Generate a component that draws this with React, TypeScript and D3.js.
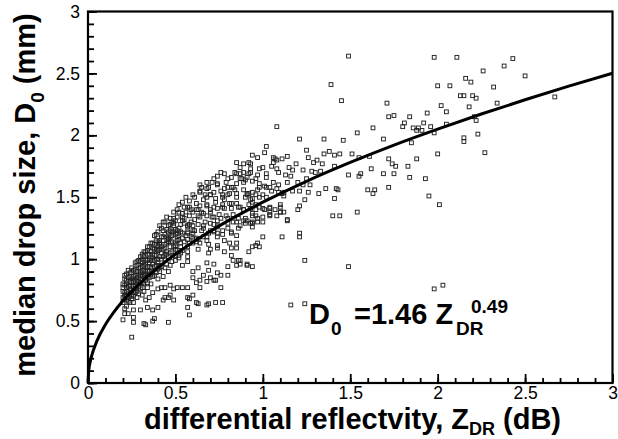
import React, { useRef, useEffect } from 'react';
import * as d3 from 'd3';

type Pt = [number, number];

const upperTail: Pt[] = [
  [1.98, 2.63], [2.11, 2.63], [2.43, 2.62], [2.38, 2.56], [2.26, 2.52], [2.50, 2.48], [2.16, 2.46],
  [2.19, 2.43], [2.00, 2.40], [2.07, 2.40], [2.32, 2.39], [2.13, 2.32], [2.15, 2.32], [2.20, 2.32],
  [2.22, 2.30], [2.67, 2.31], [2.34, 2.26], [2.02, 2.24], [2.18, 2.23], [2.05, 2.19], [1.94, 2.18],
  [2.21, 2.15], [2.22, 2.12], [1.92, 2.10], [1.96, 2.07], [2.05, 2.09], [1.91, 2.04], [1.98, 2.02],
  [2.23, 2.01], [2.15, 1.98], [2.15, 1.95], [2.00, 1.85], [2.27, 1.86], [1.93, 1.65], [1.95, 1.51],
  [2.01, 1.44], [1.98, 0.76], [2.03, 0.79], [1.49, 2.64], [1.39, 2.41], [1.45, 2.28], [1.71, 2.26],
  [1.75, 2.16], [1.72, 2.15], [1.84, 2.15], [1.81, 2.10], [1.80, 2.07], [1.63, 2.06], [1.86, 2.06],
  [1.88, 2.04], [1.89, 2.06],
];

const midCloud: Pt[] = [
  [1.08, 2.07], [1.54, 2.02], [1.21, 1.97], [1.35, 1.97], [1.46, 1.96], [1.69, 1.97], [1.85, 1.94],
  [1.02, 1.91], [1.01, 1.86], [1.25, 1.88], [1.38, 1.87], [1.35, 1.85], [1.41, 1.84], [1.44, 1.85],
  [1.51, 1.85], [1.55, 1.82], [1.61, 1.83], [0.94, 1.84], [0.97, 1.82], [1.06, 1.82], [1.08, 1.80],
  [1.11, 1.81], [1.14, 1.83], [1.19, 1.77], [1.26, 1.82], [1.29, 1.78], [1.31, 1.80], [1.34, 1.77],
  [1.72, 1.81], [1.74, 1.77], [1.76, 1.75], [1.88, 1.81], [1.83, 1.75], [1.41, 1.75], [1.62, 1.73],
  [0.89, 1.77], [0.93, 1.77], [1.00, 1.74], [1.05, 1.75], [1.08, 1.73], [1.15, 1.74], [1.17, 1.72],
  [1.23, 1.72], [1.28, 1.71], [1.30, 1.70], [1.33, 1.71], [1.25, 1.65], [1.49, 1.68], [1.55, 1.67],
  [1.56, 1.69], [1.69, 1.69], [1.75, 1.69], [1.84, 1.66], [0.87, 1.69], [0.92, 1.69], [0.97, 1.68],
  [1.02, 1.69], [1.09, 1.70], [1.13, 1.68], [1.16, 1.67], [0.88, 1.65], [0.91, 1.66], [0.94, 1.63],
  [0.98, 1.61], [1.01, 1.59], [1.06, 1.62], [1.09, 1.60], [1.14, 1.62], [1.20, 1.62], [1.23, 1.60],
  [1.27, 1.60], [1.36, 1.57], [1.42, 1.57], [1.43, 1.56], [1.60, 1.56], [1.64, 1.56], [1.63, 1.53],
  [1.72, 1.58], [0.89, 1.56], [0.91, 1.52], [0.93, 1.48], [0.96, 1.52], [0.98, 1.50], [1.00, 1.52],
  [1.02, 1.50], [1.05, 1.55], [1.08, 1.57], [1.11, 1.53], [1.12, 1.51], [1.17, 1.55], [1.21, 1.55],
  [1.24, 1.48], [1.26, 1.54], [1.32, 1.53], [1.41, 1.49], [0.96, 1.44], [1.00, 1.41], [1.04, 1.41],
  [1.10, 1.44], [1.21, 1.43], [0.89, 1.40], [0.94, 1.37], [0.96, 1.35], [1.04, 1.38], [1.04, 1.36],
  [1.10, 1.38], [1.12, 1.38], [1.20, 1.40], [1.40, 1.35], [1.44, 1.35], [1.54, 1.38], [0.89, 1.31],
  [0.94, 1.30], [1.00, 1.30], [1.14, 1.31], [0.94, 1.26], [1.00, 1.18], [1.11, 1.18], [1.21, 1.21],
  [1.21, 1.18], [0.97, 1.13], [0.96, 1.11], [0.92, 1.06], [0.87, 0.99], [0.87, 0.96], [0.91, 0.96],
  [0.94, 0.94], [1.24, 0.99], [1.49, 0.94], [1.16, 0.63], [1.24, 0.64],
];

const upperCloud: Pt[] = [
  [0.85, 1.78], [0.92, 1.78], [0.87, 1.74], [0.89, 1.70], [0.93, 1.73], [0.93, 1.70], [0.98, 1.73],
  [0.85, 1.69], [0.82, 1.66], [0.74, 1.67], [0.78, 1.69], [0.87, 1.65], [0.90, 1.64], [0.96, 1.65],
  [1.02, 1.66], [1.06, 1.78], [1.07, 1.81], [0.74, 1.61], [0.80, 1.58], [0.82, 1.58], [0.84, 1.56],
  [0.64, 1.55], [0.68, 1.57], [0.70, 1.52], [0.73, 1.49], [0.77, 1.50], [0.80, 1.52], [0.85, 1.53],
  [0.90, 1.50], [0.92, 1.53], [0.94, 1.54], [0.98, 1.58], [1.02, 1.58], [1.04, 1.58], [1.09, 1.54],
  [1.12, 1.54], [0.58, 1.42], [0.62, 1.40], [0.64, 1.43], [0.68, 1.43], [0.70, 1.40], [0.74, 1.41],
  [0.77, 1.42], [0.78, 1.41], [0.82, 1.41], [0.86, 1.42], [0.89, 1.40], [0.93, 1.41], [0.96, 1.40],
  [0.98, 1.42], [1.01, 1.40], [1.04, 1.42], [1.07, 1.40], [1.10, 1.42], [1.10, 1.38], [0.51, 1.34],
  [0.54, 1.34], [0.54, 1.37], [0.58, 1.35], [0.64, 1.34], [0.68, 1.35], [0.72, 1.34], [0.76, 1.33],
  [0.80, 1.33], [0.86, 1.33], [0.90, 1.33], [0.94, 1.35], [0.97, 1.33], [1.00, 1.34], [1.04, 1.35],
  [1.08, 1.35], [1.14, 1.32], [0.69, 1.58], [0.74, 1.60], [0.78, 1.57], [0.83, 1.58], [0.85, 1.61],
  [0.89, 1.62], [0.64, 1.54], [0.67, 1.52], [0.72, 1.54], [0.77, 1.52], [0.81, 1.53], [0.85, 1.50],
  [0.91, 1.53], [0.94, 1.49], [0.97, 1.56], [0.68, 1.44], [0.72, 1.42], [0.77, 1.44], [0.82, 1.45],
  [0.87, 1.42], [0.92, 1.44], [0.94, 1.46], [0.60, 1.38], [0.63, 1.35], [0.66, 1.37], [0.71, 1.34],
  [0.74, 1.31], [0.85, 1.30], [0.91, 1.31], [0.94, 1.29],
];

const coreCloud: Pt[] = [
  [0.49, 1.29], [0.53, 1.28], [0.57, 1.27], [0.60, 1.27], [0.66, 1.27], [0.70, 1.29], [0.74, 1.27],
  [0.80, 1.29], [0.83, 1.30], [0.87, 1.27], [0.90, 1.29], [0.93, 1.29], [0.97, 1.30], [0.47, 1.23],
  [0.51, 1.23], [0.57, 1.22], [0.60, 1.23], [0.65, 1.23], [0.70, 1.23], [0.74, 1.21], [0.80, 1.25],
  [0.82, 1.22], [0.86, 1.25], [0.43, 1.18], [0.47, 1.18], [0.51, 1.18], [0.54, 1.17], [0.59, 1.18],
  [0.62, 1.17], [0.68, 1.18], [0.74, 1.18], [0.78, 1.15], [0.85, 1.19], [0.41, 1.13], [0.45, 1.13],
  [0.50, 1.13], [0.53, 1.13], [0.58, 1.13], [0.64, 1.13], [0.69, 1.12], [0.74, 1.11], [0.81, 1.13],
  [0.85, 1.13], [0.82, 1.09], [0.85, 1.09], [0.70, 1.08], [0.74, 1.09], [0.94, 1.10], [0.98, 1.10],
  [0.49, 1.27], [0.48, 1.22], [0.51, 1.21], [0.54, 1.21], [0.57, 1.21], [0.60, 1.21], [0.46, 1.17],
  [0.43, 1.15], [0.47, 1.10], [0.50, 1.11], [0.44, 1.09], [0.40, 1.07], [0.42, 1.05], [0.39, 1.03],
  [0.37, 1.01], [0.35, 0.97], [0.40, 0.97], [0.34, 0.94], [0.31, 0.91], [0.30, 0.89], [0.28, 0.85],
  [0.26, 0.82], [0.25, 0.81], [0.22, 0.77], [0.21, 0.73], [0.35, 0.90], [0.38, 0.87], [0.41, 0.90],
  [0.44, 0.93], [0.47, 0.95], [0.50, 0.99], [0.52, 1.03], [0.54, 1.07], [0.57, 1.10], [0.60, 1.13],
  [0.63, 1.16], [0.66, 1.18], [0.69, 1.21], [0.72, 1.23], [0.74, 1.26], [0.30, 0.81], [0.33, 0.83],
  [0.27, 0.73], [0.25, 0.71], [0.34, 0.77], [0.31, 0.77], [0.57, 1.26], [0.61, 1.23], [0.66, 1.25],
  [0.72, 1.22], [0.77, 1.23], [0.82, 1.21], [0.41, 1.15], [0.46, 1.14], [0.51, 1.15], [0.57, 1.16],
  [0.62, 1.14], [0.68, 1.15], [0.34, 1.07], [0.40, 1.07], [0.45, 1.06], [0.51, 1.07], [0.57, 1.06],
  [0.21, 0.79], [0.22, 0.83], [0.23, 0.72], [0.24, 0.86], [0.24, 0.76], [0.25, 0.89], [0.26, 0.78],
  [0.27, 0.92], [0.27, 0.84], [0.28, 0.95], [0.28, 0.80], [0.29, 0.88], [0.30, 0.98], [0.30, 0.84],
  [0.31, 1.00], [0.31, 0.94], [0.32, 0.87], [0.32, 1.02], [0.33, 0.96], [0.33, 0.90], [0.34, 1.04],
  [0.34, 0.86], [0.35, 1.00], [0.36, 1.06], [0.36, 0.93], [0.37, 1.09], [0.37, 0.96], [0.38, 1.03],
  [0.38, 1.12], [0.39, 0.95], [0.39, 1.15], [0.40, 1.10], [0.41, 1.02], [0.42, 1.18], [0.42, 0.94],
  [0.43, 1.08], [0.44, 1.20], [0.44, 1.00], [0.45, 1.24], [0.46, 1.02], [0.46, 1.16], [0.47, 1.28],
  [0.48, 1.06], [0.48, 1.19], [0.49, 1.33], [0.50, 1.03], [0.50, 1.24], [0.52, 1.38], [0.52, 1.16],
  [0.53, 1.10], [0.55, 1.29], [0.55, 1.42], [0.56, 1.19], [0.58, 1.47], [0.59, 1.30], [0.61, 1.50],
  [0.63, 1.40], [0.65, 1.58], [0.66, 1.48], [0.68, 1.62], [0.70, 1.52], [0.72, 1.65], [0.76, 1.70],
  [0.79, 1.62],
];

const denseBand: Pt[] = [
  [0.20, 0.74], [0.20, 0.80], [0.21, 0.68], [0.21, 0.84], [0.22, 0.71], [0.22, 0.88], [0.23, 0.78],
  [0.23, 0.66], [0.24, 0.82], [0.24, 0.70], [0.25, 0.75], [0.25, 0.93], [0.26, 0.86], [0.26, 0.70],
  [0.27, 0.79], [0.27, 0.97], [0.28, 0.74], [0.28, 0.90], [0.29, 0.82], [0.29, 0.99], [0.29, 0.72],
  [0.30, 0.93], [0.30, 0.76], [0.31, 0.86], [0.31, 1.04], [0.32, 0.80], [0.32, 0.95], [0.32, 0.74],
  [0.33, 1.06], [0.33, 0.88], [0.34, 0.99], [0.34, 0.81], [0.35, 1.10], [0.35, 0.85], [0.36, 0.99],
  [0.36, 0.80], [0.37, 1.13], [0.37, 0.90], [0.38, 0.99], [0.38, 1.19], [0.39, 0.89], [0.39, 1.08],
  [0.40, 1.22], [0.40, 1.00], [0.40, 0.84], [0.41, 1.12], [0.41, 0.95], [0.42, 1.25], [0.42, 1.00],
  [0.43, 0.86], [0.43, 1.23], [0.44, 1.04], [0.44, 1.30], [0.45, 0.96], [0.45, 1.18], [0.46, 1.27],
  [0.46, 0.90], [0.47, 1.05], [0.47, 1.33], [0.48, 1.14], [0.48, 0.98], [0.49, 1.22], [0.49, 1.38],
  [0.50, 1.08], [0.50, 1.31], [0.52, 1.25], [0.52, 1.44], [0.53, 1.05], [0.54, 1.31], [0.55, 1.14],
  [0.56, 1.38], [0.56, 1.50], [0.57, 1.02], [0.58, 1.28], [0.59, 1.40], [0.60, 1.17], [0.60, 1.52],
  [0.61, 1.32], [0.62, 1.45], [0.63, 1.08], [0.63, 1.28], [0.64, 1.60], [0.65, 1.38], [0.67, 1.30],
  [0.68, 1.50], [0.69, 1.05], [0.70, 1.38], [0.71, 1.62], [0.72, 1.28], [0.73, 1.46], [0.75, 1.36],
  [0.76, 1.55], [0.77, 1.20], [0.78, 1.48], [0.79, 1.35], [0.80, 1.65], [0.81, 1.45], [0.83, 1.36],
  [0.84, 1.70], [0.85, 1.45],
  [0.20, 0.77], [0.21, 0.71], [0.21, 0.87], [0.22, 0.74], [0.22, 0.80], [0.23, 0.85], [0.23, 0.69],
  [0.23, 0.91], [0.24, 0.79], [0.24, 0.89], [0.25, 0.84], [0.25, 0.68], [0.26, 0.91], [0.26, 0.74],
  [0.27, 0.87], [0.27, 0.76], [0.28, 0.83], [0.28, 0.98], [0.29, 0.78], [0.29, 0.93], [0.30, 0.87],
  [0.30, 1.02], [0.31, 0.81], [0.31, 0.97], [0.32, 0.91], [0.32, 1.06], [0.33, 0.85], [0.33, 1.00],
  [0.34, 0.91], [0.34, 1.10], [0.35, 0.94], [0.35, 1.04], [0.36, 0.88], [0.36, 1.13], [0.37, 1.04],
  [0.37, 0.86], [0.38, 0.94], [0.38, 1.08], [0.39, 1.00], [0.39, 1.20], [0.40, 0.92], [0.40, 1.14],
  [0.41, 1.08], [0.41, 1.27], [0.42, 1.10], [0.43, 1.02], [0.43, 1.30], [0.44, 1.12], [0.45, 1.04],
  [0.45, 1.34], [0.46, 1.22], [0.47, 1.14], [0.48, 1.30], [0.49, 1.10], [0.50, 1.20], [0.51, 1.40],
  [0.53, 1.22], [0.54, 1.46], [0.55, 1.33], [0.57, 1.42],
];

const lowerScatter: Pt[] = [
  [0.20, 0.69], [0.22, 0.67], [0.20, 0.65], [0.21, 0.60], [0.22, 0.62], [0.24, 0.65], [0.26, 0.65],
  [0.28, 0.69], [0.31, 0.71], [0.33, 0.67], [0.35, 0.69], [0.37, 0.73], [0.40, 0.76], [0.42, 0.77],
  [0.44, 0.77], [0.47, 0.79], [0.49, 0.76], [0.51, 0.77], [0.54, 0.77], [0.57, 0.77], [0.60, 0.85],
  [0.62, 0.81], [0.64, 0.83], [0.68, 0.82], [0.70, 0.85], [0.73, 0.83], [0.73, 0.65], [0.68, 0.63],
  [0.62, 0.65], [0.58, 0.68], [0.57, 0.61], [0.49, 0.67], [0.46, 0.69], [0.43, 0.67], [0.40, 0.61],
  [0.37, 0.59], [0.34, 0.61], [0.30, 0.59], [0.26, 0.59], [0.23, 0.56], [0.21, 0.56], [0.20, 0.51],
  [0.26, 0.53], [0.32, 0.48], [0.38, 0.52], [0.46, 0.49], [0.58, 0.55], [0.52, 1.01], [0.54, 0.95],
  [0.57, 0.98], [0.60, 0.90], [0.63, 0.93], [0.66, 0.87], [0.69, 0.91], [0.74, 0.89], [0.64, 0.77],
  [0.25, 0.37], [0.26, 0.49], [0.33, 0.47], [0.37, 0.50], [0.63, 0.64], [0.69, 0.64], [0.77, 0.65],
  [0.57, 0.69], [0.60, 0.71], [0.47, 0.71], [0.44, 0.69], [0.76, 0.77], [0.72, 0.83], [0.80, 0.87],
  [0.76, 0.87], [0.68, 0.97], [0.72, 0.96], [0.80, 0.94], [0.83, 0.99], [0.86, 0.99], [0.85, 0.95],
  [0.91, 0.95], [0.82, 1.03], [0.78, 1.06],
];

// fitted curve D0 = 1.46 Zdr^0.49, values as drawn
const fitZdr = [0, 0.005, 0.01, 0.02, 0.05, 0.1, 0.15, 0.2, 0.3, 0.4, 0.5, 0.6, 0.8, 1, 1.25, 1.5, 1.75, 2, 2.25, 2.5, 2.75, 3];
const fitD0 = [0, 0.109, 0.153, 0.215, 0.336, 0.472, 0.576, 0.664, 0.809, 0.932, 1.04, 1.137, 1.309, 1.46, 1.629, 1.781, 1.921, 2.05, 2.172, 2.287, 2.397, 2.501];

const majorTicks = [0, 0.5, 1, 1.5, 2, 2.5, 3];
const tickLabels = ['0', '0.5', '1', '1.5', '2', '2.5', '3'];

const FONT = '"Liberation Sans", Arial, Helvetica, sans-serif';

const App = () => {
  const plotRef = useRef<SVGGElement>(null);

  useEffect(() => {
    const root = d3.select(plotRef.current);
    root.selectAll('*').remove();

    const left = 88, right = 612.5, top = 11.5, bottom = 383;
    const x = d3.scaleLinear().domain([0, 3]).range([left, right]);
    const y = d3.scaleLinear().domain([0, 3]).range([bottom, top]);
    const minorTicks = d3.range(0, 31).map(i => i / 10);

    // scatter
    const points = [...upperTail, ...midCloud, ...upperCloud, ...coreCloud, ...denseBand, ...lowerScatter];
    root.append('g')
      .selectAll('rect')
      .data(points)
      .enter()
      .append('rect')
      .attr('x', d => x(d[0]) - 1.9)
      .attr('y', d => y(d[1]) - 1.9)
      .attr('width', 3.8)
      .attr('height', 3.8)
      .attr('fill', 'none')
      .attr('stroke', '#222')
      .attr('stroke-width', 0.95);

    // fit line
    const line = d3.line<number>()
      .x(d => x(d))
      .y((d, i) => y(fitD0[i]))
      .curve(d3.curveMonotoneX);
    root.append('path')
      .attr('d', line(fitZdr))
      .attr('fill', 'none')
      .attr('stroke', '#000')
      .attr('stroke-width', 3);

    // axes, ticks pointing inward
    const xMinor = root.append('g').attr('transform', `translate(0,${bottom})`)
      .call(d3.axisBottom(x).tickValues(minorTicks).tickSize(-5).tickFormat(() => ''));
    const xMajor = root.append('g').attr('transform', `translate(0,${bottom})`)
      .call(d3.axisBottom(x).tickValues(majorTicks).tickFormat((d, i) => tickLabels[i])
        .tickSizeInner(-9).tickSizeOuter(0).tickPadding(4));
    const yMinor = root.append('g').attr('transform', `translate(${left},0)`)
      .call(d3.axisLeft(y).tickValues(minorTicks).tickSize(-6).tickFormat(() => ''));
    const yMajor = root.append('g').attr('transform', `translate(${left},0)`)
      .call(d3.axisLeft(y).tickValues(majorTicks).tickFormat((d, i) => tickLabels[i])
        .tickSizeInner(-9).tickSizeOuter(0).tickPadding(8));

    [xMinor, xMajor, yMinor, yMajor].forEach(g => {
      g.select('.domain').remove();
      g.selectAll('line').attr('stroke', '#000').attr('stroke-width', 1.8);
      g.selectAll('text').attr('font-family', FONT).attr('font-size', 17.5).attr('fill', '#000');
    });

    // frame
    root.append('rect')
      .attr('x', left).attr('y', top)
      .attr('width', right - left).attr('height', bottom - top)
      .attr('fill', 'none').attr('stroke', '#000').attr('stroke-width', 2.2);
  }, []);

  const bold = { fontFamily: FONT, fontWeight: 'bold' as const, fill: '#000' };

  return (
    <svg width={618} height={439}
      style={{ position: 'absolute', left: 0, top: 0, background: '#fff' }}>
      <g ref={plotRef} />
      {/* axis titles */}
      <text x={144} y={429} style={{ ...bold, fontSize: 29 }}>
        differential reflectvity, Z
        <tspan dy={6} style={{ fontSize: 18 }}>DR</tspan>
        <tspan dy={-6}> (dB)</tspan>
      </text>
      <text transform="translate(35,195) rotate(-90)" textAnchor="middle" style={{ ...bold, fontSize: 29 }}>
        median drop size, D
        <tspan dy={9} style={{ fontSize: 19 }}>0</tspan>
        <tspan dy={-9}> (mm)</tspan>
      </text>
      {/* equation */}
      <text x={309} y={324} style={{ ...bold, fontSize: 29 }}>D</text>
      <text x={331} y={335} style={{ ...bold, fontSize: 19 }}>0</text>
      <text x={354} y={324} style={{ ...bold, fontSize: 29 }}>=1.46 Z</text>
      <text x={456} y={335} style={{ ...bold, fontSize: 19 }}>DR</text>
      <text x={471} y={313} style={{ ...bold, fontSize: 19 }}>0.49</text>
    </svg>
  );
};

export default App;
